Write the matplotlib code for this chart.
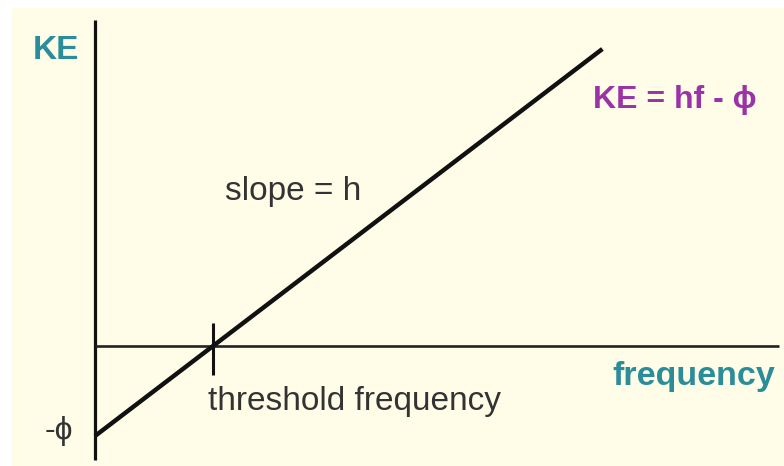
import matplotlib.pyplot as plt
from matplotlib.patches import Rectangle

# photoelectric effect: KE = hf - phi (arbitrary units, h = 1, phi = 1)
line_f = [0.0, 4.3]
line_ke = [-1.0, 3.3]
threshold_f = 1.0
f_axis = [0.0, 5.8]
ke_axis = [-1.27, 3.62]

teal = '#2b8d99'
purple = '#9a32a8'
cream = '#fffde8'
fonts = ['Liberation Sans', 'DejaVu Sans']

fig = plt.figure(figsize=(7.84, 4.66), dpi=100)
fig.patches.append(Rectangle((12 / 784, 0), 1 - 12 / 784, 1 - 8 / 466,
                             transform=fig.transFigure, facecolor=cream,
                             edgecolor='none', zorder=-10))
ax = fig.add_axes([0, 0, 1, 1])
ax.set_facecolor('none')
ax.axis('off')
ax.set_xlim(-0.805, 5.839)
ax.set_ylim(-1.333, 3.844)

# axes
ax.plot([0, 0], ke_axis, color='#111111', lw=2.3, solid_capstyle='butt')
ax.plot(f_axis, [0, 0], color='#222222', lw=1.9, solid_capstyle='butt')

# KE vs frequency
ax.plot(line_f, line_ke, color='#111111', lw=3.2, solid_capstyle='butt')

# threshold tick
ax.plot([threshold_f, threshold_f], [0.256, -0.322], color='#111111', lw=2.2,
        solid_capstyle='butt')

ax.text(-0.525, 3.19, 'KE', color=teal, fontsize=24, fontweight='bold',
        family=fonts, ha='left', va='baseline')
ax.text(5.763, -0.433, 'frequency', color=teal, fontsize=24.5,
        fontweight='bold', family=fonts, ha='right', va='baseline')
ax.text(4.22, 2.644, 'KE = hf - ϕ', color=purple, fontsize=23,
        fontweight='bold', family=fonts, ha='left', va='baseline')
ax.text(1.10, 1.622, 'slope = h', color='#333333', fontsize=24,
        family=fonts, ha='left', va='baseline')
ax.text(0.958, -0.711, 'threshold frequency', color='#333333', fontsize=24,
        family=fonts, ha='left', va='baseline')
ax.text(-0.424, -0.944, '-ϕ', color='#333333', fontsize=23,
        family=fonts, ha='left', va='center')

fig.savefig('out.png', dpi=100)
